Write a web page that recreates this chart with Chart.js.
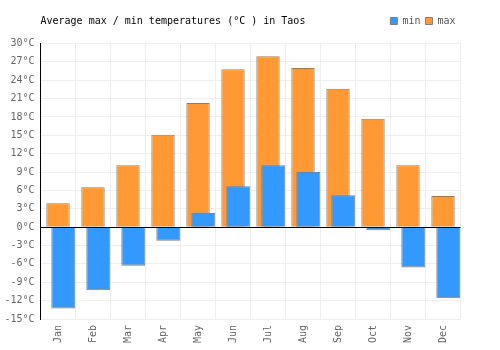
<!DOCTYPE html>
<html>
<head>
<meta charset="utf-8">
<script src="https://cdn.jsdelivr.net/npm/chart.js@4/dist/chart.umd.min.js"></script>
<style>
  html, body { margin: 0; padding: 0; background: #fff; }
  #wrap { width: 500px; height: 350px; }
</style>
</head>
<body>
<div id="wrap"><canvas id="c" width="500" height="350"></canvas></div>
<script>
const titleText = "Average max / min temperatures (°C ) in Taos";
const months = ["Jan","Feb","Mar","Apr","May","Jun","Jul","Aug","Sep","Oct","Nov","Dec"];
const maxTemps = [3.9, 6.5, 10.1, 15.1, 20.3, 25.8, 27.9, 26.0, 22.6, 17.7, 10.1, 5.1];
const minTemps = [-13.3, -10.3, -6.3, -2.2, 2.3, 6.7, 10.1, 9.0, 5.2, -0.5, -6.6, -11.6];
const yMin = -15, yMax = 30, yStep = 3;

const FONT = "'DejaVu Sans Mono', 'Liberation Mono', monospace";

// draws the min series shifted right within its category, on top of max
const shiftPlugin = {
  id: 'shift',
  beforeDatasetDraw(chart, args) {
    const ds = chart.data.datasets[args.index];
    if (ds.shiftFraction) {
      const x = chart.scales.x;
      const cw = x.width / chart.data.labels.length;
      chart.ctx.save();
      chart.ctx.translate(cw * ds.shiftFraction, 0);
    }
  },
  afterDatasetDraw(chart, args) {
    const ds = chart.data.datasets[args.index];
    if (ds.shiftFraction) chart.ctx.restore();
  }
};

// adds some space under the legend row
const legendSpacePlugin = {
  id: 'legendSpace',
  beforeLayout(chart, args, opts) {
    const lg = chart.legend;
    if (lg && !lg.__patched) {
      const orig = lg.fit.bind(lg);
      lg.fit = function () { orig(); this.height += opts.extra || 0; };
      lg.__patched = true;
    }
  }
};

const titlePlugin = {
  id: 'sideTitle',
  afterDraw(chart) {
    const lg = chart.legend;
    if (!lg || !lg.legendHitBoxes || !lg.legendHitBoxes.length) return;
    const hb = lg.legendHitBoxes[0];
    const ctx = chart.ctx;
    ctx.save();
    ctx.font = "10px " + FONT;
    ctx.fillStyle = '#000';
    ctx.textBaseline = 'middle';
    ctx.textAlign = 'left';
    ctx.fillText(titleText, chart.chartArea.left, hb.top + hb.height / 2);
    ctx.restore();
  }
};

new Chart(document.getElementById('c'), {
  type: 'bar',
  data: {
    labels: months,
    datasets: [
      {
        label: 'min',
        data: minTemps,
        backgroundColor: '#3399ff',
        borderColor: '#808080',
        borderWidth: 1,
        grouped: false,
        categoryPercentage: 1,
        barPercentage: 0.686,
        shiftFraction: 0.152,
        order: 0
      },
      {
        label: 'max',
        data: maxTemps,
        backgroundColor: '#ff9933',
        borderColor: '#808080',
        borderWidth: 1,
        grouped: false,
        categoryPercentage: 1,
        barPercentage: 0.667,
        order: 1
      }
    ]
  },
  options: {
    responsive: false,
    animation: false,
    devicePixelRatio: 1,
    layout: { padding: { left: 0, right: 39.5, top: 11, bottom: 0 } },
    plugins: {
      title: { display: false },
      tooltip: { enabled: false },
      legendSpace: { extra: 7.5 },
      legend: {
        display: true,
        position: 'top',
        align: 'end',
        labels: {
          boxWidth: 7,
          boxHeight: 7,
          padding: 5,
          color: '#555',
          font: { family: FONT, size: 10 }
        }
      }
    },
    scales: {
      x: {
        offset: true,
        grid: { color: '#eeeeee', offset: true, drawTicks: false },
        border: { display: false },
        ticks: {
          color: '#666',
          font: { family: FONT, size: 10 },
          minRotation: 90,
          maxRotation: 90,
          padding: 6
        },
        afterFit(s) { s.height = 31; }
      },
      y: {
        min: yMin,
        max: yMax,
        grid: {
          color: (c) => (c.tick && c.tick.value === 0) ? '#000' : '#eeeeee',
          drawTicks: false
        },
        border: { display: true, color: '#000', width: 1 },
        ticks: {
          stepSize: yStep,
          color: '#666',
          font: { family: FONT, size: 10 },
          padding: 6,
          callback: (v) => v + '°C'
        },
        afterFit(s) { s.width = 40.5; }
      }
    }
  },
  plugins: [shiftPlugin, legendSpacePlugin, titlePlugin]
});
</script>
</body>
</html>
